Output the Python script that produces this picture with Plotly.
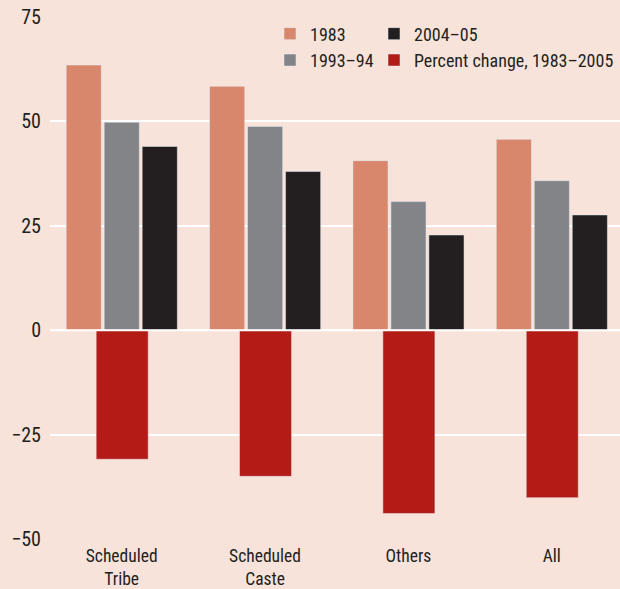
import plotly.graph_objects as go

categories = ["Scheduled<br>Tribe", "Scheduled<br>Caste", "Others", "All"]
v1983 = [63.5, 58.4, 40.6, 45.7]
v1993 = [49.8, 48.8, 30.8, 35.8]
v2004 = [44.0, 38.0, 22.8, 27.6]
pct_change = [-30.9, -35.0, -43.9, -40.1]
y_ticks = [-50, -25, 0, 25, 50, 75]
y_ticktext = ["\u221250", "\u221225", "0", "25", "50", "75"]

BG = "#f7e3d9"
FONT = "Liberation Sans Narrow, Roboto Condensed, Arial Narrow, Liberation Sans, sans-serif"
TXT = "#231f20"

fig = go.Figure()
bw = 0.245
fig.add_bar(x=categories, y=v1983, name="1983", marker_color="#d9876c",
            offset=-0.387, width=bw, legend="legend")
fig.add_bar(x=categories, y=v1993, name="1993\u201394", marker_color="#838488",
            offset=-0.122, width=bw, legend="legend")
fig.add_bar(x=categories, y=v2004, name="2004\u201305", marker_color="#231f20",
            offset=0.143, width=bw, legend="legend2")
fig.add_bar(x=categories, y=pct_change, name="Percent change, 1983\u20132005",
            marker_color="#b31b17", offset=-0.178, width=0.363, legend="legend2")

fig.add_shape(type="line", xref="paper", x0=0, x1=1, yref="y", y0=0, y1=0,
              line=dict(color="white", width=2), layer="above")

PL, PR = 50, 620
def px2paper(px):
    return (px - PL) / (PR - PL)

legend_common = dict(orientation="v", bgcolor="rgba(0,0,0,0)",
                     font=dict(family=FONT, size=18, color=TXT),
                     xanchor="left", yanchor="top",
                     itemwidth=30, tracegroupgap=0)

fig.update_layout(
    width=620, height=589,
    paper_bgcolor=BG, plot_bgcolor=BG,
    barmode="overlay",
    margin=dict(l=50, r=0, t=17, b=50, autoexpand=False),
    font=dict(family=FONT, color=TXT),
    showlegend=True,
    legend=dict(x=px2paper(270), y=1.003, **legend_common),
    legend2=dict(x=px2paper(374), y=1.003, **legend_common),
    xaxis=dict(range=[-0.5, 3.476], showgrid=False, zeroline=False,
               tickfont=dict(family=FONT, size=17.5, color=TXT),
               ticks="outside", ticklen=1, tickcolor="rgba(0,0,0,0)",
               showline=False, automargin=False),
    yaxis=dict(range=[-50, 75], tickvals=y_ticks, ticktext=y_ticktext,
               showgrid=True, gridcolor="white", gridwidth=2, zeroline=False,
               tickfont=dict(family=FONT, size=20, color=TXT),
               ticks="outside", ticklen=4, tickcolor="rgba(0,0,0,0)",
               showline=False, automargin=False),
)

fig.write_html("out.html", config={"displayModeBar": False},
               post_script="document.body.style.margin='0';")
